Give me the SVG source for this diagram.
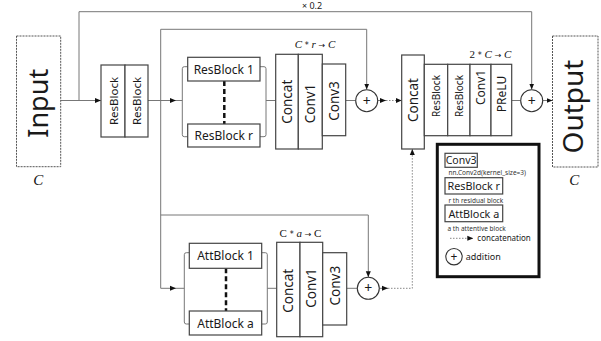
<svg xmlns="http://www.w3.org/2000/svg" width="601" height="341" viewBox="0 0 601 341">
<defs>
<marker id="ah" viewBox="0 0 6 6" refX="6" refY="3" markerWidth="6" markerHeight="6" markerUnits="userSpaceOnUse" orient="auto"><path d="M0,0.5 L6,3 L0,5.5 z" fill="#111"/></marker>
</defs>
<style>
.b{fill:#fff;stroke:#444;stroke-width:1.2}
.io{fill:#fff;stroke:#555;stroke-width:1;stroke-dasharray:2 1}
.c{fill:none;stroke:#777;stroke-width:1}
.d{fill:none;stroke:#888;stroke-width:1;stroke-dasharray:1.5 1.5}
.k{fill:none;stroke:#111;stroke-width:2.5;stroke-dasharray:5 3}
.t{font-family:"Noto Sans","DejaVu Sans",sans-serif;fill:#1a1a1a}
.m{font-family:"Liberation Serif",serif;font-style:italic;fill:#111}
.u{font-style:normal;font-family:"DejaVu Sans",sans-serif;font-size:8px}
.p{fill:#fff;stroke:#333;stroke-width:1.1}
.s{font-family:"Noto Sans","DejaVu Sans",sans-serif;fill:#333;font-size:6.5px}
</style>
<rect width="601" height="341" fill="#fff"/>

<g id="connectors">
<path class="c" d="M60.7,100.5 H101" marker-end="url(#ah)"/>
<path class="c" d="M79,100.5 V11.7 H531.7 V89.5" marker-end="url(#ah)"/>
<path class="c" d="M148,100.5 H176" marker-end="url(#ah)"/>
<path class="c" d="M176,100.5 H182.3"/>
<path class="c" d="M160.7,100.5 V29.3 H366.7 V89.6" marker-end="url(#ah)"/>
<path class="c" d="M160.7,100.5 V288.3 H176" marker-end="url(#ah)"/>
<path class="c" d="M176,288.3 H184.3"/>
<path class="c" d="M160.7,215 H368.3 V277.2" marker-end="url(#ah)"/>
<path class="c" d="M188,66.7 H184.3 Q182.3,66.7 182.3,68.7 V134.7 Q182.3,136.7 184.3,136.7 H188"/>
<path class="c" d="M260,66.7 H264 Q266,66.7 266,68.7 V134.7 Q266,136.7 264,136.7 H260 M266,100.5 H275.7"/>
<path class="c" d="M189.3,252.7 H186.3 Q184.3,252.7 184.3,254.7 V322 Q184.3,324 186.3,324 H189.3"/>
<path class="c" d="M261.7,252.7 H265.3 Q267.3,252.7 267.3,254.7 V322 Q267.3,324 265.3,324 H261.7 M267.3,288.3 H276.7"/>
<path class="k" d="M224.3,81 V124"/>
<path class="k" d="M226,268.3 V311"/>
<path class="c" d="M345.7,100.5 H355.7"/>
<path class="c" d="M346.7,288.3 H357.3"/>
<path class="c" d="M377.7,100.5 H386" marker-end="url(#ah)"/>
<path class="d" d="M386,100.5 H401.7" marker-end="url(#ah)"/>
<path class="c" d="M379.3,288.3 H388" marker-end="url(#ah)"/>
<path class="d" d="M388,288.3 H412.3 V149" marker-end="url(#ah)"/>
<path class="c" d="M511.7,100.5 H520.7"/>
<path class="c" d="M542.7,100.5 H552.5" marker-end="url(#ah)"/>
</g>

<text class="t" x="312" y="8.5" font-size="9" text-anchor="middle">× 0.2</text>

<g id="input">
<rect class="io" x="16.5" y="36" width="44.2" height="130.7"/>
<text class="t" font-size="27" text-anchor="middle" transform="translate(47.5,103.3) rotate(-90)">Input</text>
<text class="m" x="38.3" y="185" font-size="15" text-anchor="middle">C</text>
</g>

<g id="resblock-pair">
<rect class="b" x="101" y="65" width="24" height="72"/>
<rect class="b" x="125" y="65" width="23" height="72"/>
<text class="t" font-size="11.5" text-anchor="middle" transform="translate(117.5,101) rotate(-90)">ResBlock</text>
<text class="t" font-size="11.5" text-anchor="middle" transform="translate(140.5,101) rotate(-90)">ResBlock</text>
</g>

<g id="resblock-1">
<rect class="b" x="187.7" y="57.3" width="72.3" height="23.7"/>
<text class="t" x="223.8" y="73.5" font-size="12" text-anchor="middle">ResBlock 1</text>
</g>
<g id="resblock-r">
<rect class="b" x="187.7" y="124" width="72.3" height="23"/>
<text class="t" x="223.8" y="139.8" font-size="12" text-anchor="middle">ResBlock r</text>
</g>

<g id="res-fusion">
<rect class="b" x="275.7" y="54.3" width="22.6" height="94.7"/>
<rect class="b" x="298.3" y="54.3" width="24" height="94.7"/>
<rect class="b" x="322.3" y="64" width="23.4" height="71.7"/>
<text class="t" font-size="13.5" text-anchor="middle" transform="translate(291.8,101.7) rotate(-90)">Concat</text>
<text class="t" font-size="13.5" text-anchor="middle" transform="translate(315,103.5) rotate(-90)">Conv1</text>
<text class="t" font-size="13.5" text-anchor="middle" transform="translate(338.8,101) rotate(-90)">Conv3</text>
<text class="m" x="315" y="48" font-size="11" text-anchor="middle">C <tspan class="u">*</tspan> r <tspan class="u">→</tspan> C</text>
</g>

<g id="add-res">
<circle class="p" cx="366.7" cy="100.7" r="11"/>
<text class="t" x="366.7" y="105.5" font-size="14" text-anchor="middle">+</text>
</g>

<g id="attblock-1">
<rect class="b" x="189.3" y="243.3" width="72.4" height="25"/>
<text class="t" x="225.5" y="260.2" font-size="12" text-anchor="middle">AttBlock 1</text>
</g>
<g id="attblock-a">
<rect class="b" x="189.3" y="311" width="72.4" height="24"/>
<text class="t" x="225.5" y="327.5" font-size="12" text-anchor="middle">AttBlock a</text>
</g>

<g id="att-fusion">
<rect class="b" x="276.7" y="242.3" width="23.3" height="94.4"/>
<rect class="b" x="300" y="242.3" width="22.7" height="94.4"/>
<rect class="b" x="322.7" y="252.7" width="24" height="72.3"/>
<text class="t" font-size="13.5" text-anchor="middle" transform="translate(293.2,290.8) rotate(-90)">Concat</text>
<text class="t" font-size="13.5" text-anchor="middle" transform="translate(316,288) rotate(-90)">Conv1</text>
<text class="t" font-size="13.5" text-anchor="middle" transform="translate(339.5,285.7) rotate(-90)">Conv3</text>
<text class="m" x="300.5" y="237" font-size="11" text-anchor="middle"><tspan font-style="normal">C</tspan> <tspan class="u">*</tspan> a <tspan class="u">→</tspan> <tspan font-style="normal">C</tspan></text>
</g>

<g id="add-att">
<circle class="p" cx="368.3" cy="288.3" r="11"/>
<text class="t" x="368.3" y="293.1" font-size="14" text-anchor="middle">+</text>
</g>

<g id="concat-final">
<rect class="b" x="401.7" y="55" width="22.6" height="94"/>
<text class="t" font-size="13.5" text-anchor="middle" transform="translate(418,100) rotate(-90)">Concat</text>
</g>

<g id="tail-blocks">
<rect class="b" x="424.3" y="64.3" width="23.4" height="71.4"/>
<rect class="b" x="447.7" y="64.3" width="22.3" height="71.4"/>
<rect class="b" x="470" y="64.3" width="21" height="71.4"/>
<rect class="b" x="491" y="64.3" width="20.7" height="71.4"/>
<text class="t" font-size="10" text-anchor="middle" transform="translate(439.8,96) rotate(-90)">ResBlock</text>
<text class="t" font-size="10" text-anchor="middle" transform="translate(462.5,96) rotate(-90)">ResBlock</text>
<text class="t" font-size="12" text-anchor="middle" transform="translate(485,87.5) rotate(-90)">Conv1</text>
<text class="t" font-size="12" text-anchor="middle" transform="translate(505.5,94) rotate(-90)">PReLU</text>
<text class="m" x="490.5" y="58" font-size="11" text-anchor="middle"><tspan font-style="normal">2</tspan> <tspan class="u">*</tspan> C <tspan class="u">→</tspan> C</text>
</g>

<g id="add-out">
<circle class="p" cx="531.7" cy="100.7" r="11"/>
<text class="t" x="531.7" y="105.5" font-size="14" text-anchor="middle">+</text>
</g>

<g id="output">
<rect class="io" x="552.5" y="36" width="45.5" height="131"/>
<text class="t" font-size="28" text-anchor="middle" transform="translate(583,106.5) rotate(-90)">Output</text>
<text class="m" x="574.3" y="185" font-size="15" text-anchor="middle">C</text>
</g>

<g id="legend">
<rect x="437.3" y="144.3" width="101.7" height="132.4" fill="#fff" stroke="#111" stroke-width="3"/>
<rect class="b" x="445" y="153.3" width="32.3" height="14" stroke="#222"/>
<text class="t" x="461.1" y="164.2" font-size="10.5" text-anchor="middle">Conv3</text>
<text class="s" x="448.5" y="174.5">nn.Conv2d(kernel_size=3)</text>
<rect class="b" x="445" y="177.7" width="57.7" height="16.3" stroke="#222"/>
<text class="t" x="473.8" y="190.2" font-size="10.8" text-anchor="middle">ResBlock r</text>
<text class="s" x="448.5" y="202.8">r th residual block</text>
<rect class="b" x="445" y="205" width="57.7" height="16.7" stroke="#222"/>
<text class="t" x="473.8" y="217.6" font-size="10.8" text-anchor="middle">AttBlock a</text>
<text class="s" x="447.5" y="230.5">a th attentive block</text>
<path class="d" d="M450,238.3 H473.3" marker-end="url(#ah)"/>
<text class="t" x="477.3" y="241" font-size="8">concatenation</text>
<circle class="p" cx="454" cy="256.7" r="8.2" stroke="#111"/>
<text class="t" x="454" y="260.8" font-size="12" text-anchor="middle">+</text>
<text class="t" x="465.7" y="259.6" font-size="9">addition</text>
</g>
</svg>
